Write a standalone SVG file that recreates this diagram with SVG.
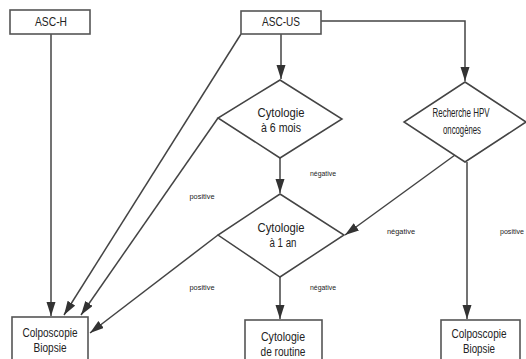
<svg xmlns="http://www.w3.org/2000/svg" width="526" height="359" viewBox="0 0 526 359">
<defs>
<style>
.box{fill:#fff;stroke:#555;stroke-width:1.6}
.dia{fill:#fff;stroke:#444;stroke-width:1.5}
.t{font-family:"Liberation Sans",Arial,sans-serif;font-size:12px;fill:#222;text-anchor:middle}
.s{font-family:"Liberation Sans",Arial,sans-serif;font-size:6.5px;fill:#222;text-anchor:middle}
.c{fill:none;stroke:#444;stroke-width:1.5}
</style>
<marker id="ah" markerUnits="userSpaceOnUse" markerWidth="15" markerHeight="10" refX="14" refY="4.5" orient="auto">
<path d="M0,0 L14,4.5 L0,9 z" fill="#333"/>
</marker>
</defs>
<rect width="526" height="359" fill="#fff"/>
<g id="connectors">
<path class="c" d="M51,34 V316" marker-end="url(#ah)"/>
<path class="c" d="M241,34 L64,315" marker-end="url(#ah)"/>
<path class="c" d="M218,118 L81,315" marker-end="url(#ah)"/>
<path class="c" d="M281,34 V79" marker-end="url(#ah)"/>
<path class="c" d="M321,21 H465 V81" marker-end="url(#ah)"/>
<path class="c" d="M280,158 V193" marker-end="url(#ah)"/>
<path class="c" d="M455,155 L345,235" marker-end="url(#ah)"/>
<path class="c" d="M218,235 L90,333" marker-end="url(#ah)"/>
<path class="c" d="M280,277 V319" marker-end="url(#ah)"/>
<path class="c" d="M467,162 V319" marker-end="url(#ah)"/>
</g>
<g id="asc-h">
<rect class="box" x="10" y="10" width="80" height="24"/>
<text class="t" x="51" y="26" textLength="32" lengthAdjust="spacingAndGlyphs">ASC-H</text>
</g>
<g id="asc-us">
<rect class="box" x="241" y="11" width="80" height="23"/>
<text class="t" x="281" y="26" textLength="38" lengthAdjust="spacingAndGlyphs">ASC-US</text>
</g>
<g id="cyto6">
<polygon class="dia" points="280,80 342,119 280,158 218,118"/>
<text class="t" x="281" y="117" textLength="47" lengthAdjust="spacingAndGlyphs">Cytologie</text>
<text class="t" x="281" y="132" textLength="40" lengthAdjust="spacingAndGlyphs">à 6 mois</text>
</g>
<g id="hpv">
<polygon class="dia" points="465,82 526,122 465,162 404,122"/>
<text class="t" x="461" y="117" textLength="57" lengthAdjust="spacingAndGlyphs">Recherche HPV</text>
<text class="t" x="462" y="134" textLength="38" lengthAdjust="spacingAndGlyphs">oncogènes</text>
</g>
<g id="cyto1">
<polygon class="dia" points="280,194 344,235 280,277 218,235"/>
<text class="t" x="281" y="232" textLength="47" lengthAdjust="spacingAndGlyphs">Cytologie</text>
<text class="t" x="283" y="247" textLength="27" lengthAdjust="spacingAndGlyphs">à 1 an</text>
</g>
<g id="colpo-left">
<rect class="box" x="12" y="317" width="76" height="50"/>
<text class="t" x="50" y="337" textLength="55" lengthAdjust="spacingAndGlyphs">Colposcopie</text>
<text class="t" x="50" y="352" textLength="33" lengthAdjust="spacingAndGlyphs">Biopsie</text>
</g>
<g id="routine">
<rect class="box" x="245" y="320" width="77" height="50"/>
<text class="t" x="283" y="341" textLength="44" lengthAdjust="spacingAndGlyphs">Cytologie</text>
<text class="t" x="283" y="356" textLength="45" lengthAdjust="spacingAndGlyphs">de routine</text>
</g>
<g id="colpo-right">
<rect class="box" x="441" y="320" width="79" height="50"/>
<text class="t" x="479" y="338" textLength="55" lengthAdjust="spacingAndGlyphs">Colposcopie</text>
<text class="t" x="479" y="353" textLength="32" lengthAdjust="spacingAndGlyphs">Biopsie</text>
</g>
<g id="labels">
<text class="s" x="202" y="199" textLength="25" lengthAdjust="spacingAndGlyphs">positive</text>
<text class="s" x="323" y="176" textLength="26" lengthAdjust="spacingAndGlyphs">négative</text>
<text class="s" x="401" y="234" textLength="28" lengthAdjust="spacingAndGlyphs">négative</text>
<text class="s" x="323" y="290" textLength="26" lengthAdjust="spacingAndGlyphs">négative</text>
<text class="s" x="202" y="290" textLength="25" lengthAdjust="spacingAndGlyphs">positive</text>
<text class="s" x="500" y="234" style="text-anchor:start" textLength="24" lengthAdjust="spacingAndGlyphs">positive</text>
</g>
</svg>
